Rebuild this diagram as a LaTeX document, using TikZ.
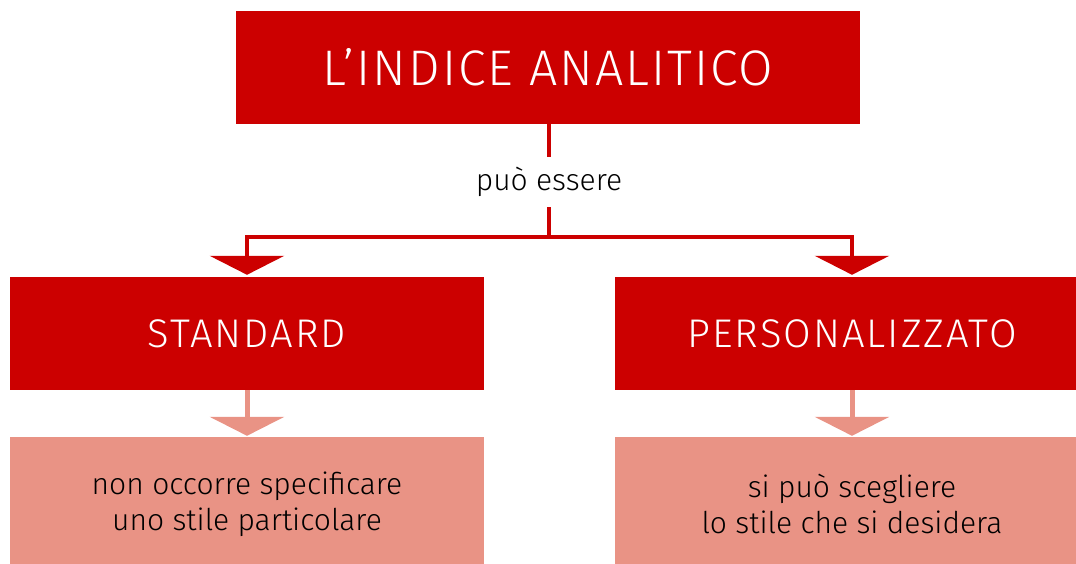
\documentclass[tikz,border=0pt]{standalone}
\usepackage{fontspec}
\setmainfont{Fira Sans Light}
\newfontfamily\titlefont{Fira Sans Light}[LetterSpace=4]
\newfontfamily\capsfont{Fira Sans Light}[LetterSpace=5]
\usetikzlibrary{arrows.meta,positioning}
\definecolor{darkred}{HTML}{CC0000}
\definecolor{salmon}{HTML}{E99385}
\tikzset{
  darkbox/.style={fill=darkred, text=white, minimum width=474pt, minimum height=113pt, inner sep=0pt, font=\capsfont\fontsize{40}{46}\selectfont},
  lightbox/.style={fill=salmon, text=black, minimum width=474pt, inner sep=0pt, align=center, font=\fontsize{30}{36}\selectfont},
  darkarrow/.style={draw=darkred, line width=4pt, -{Triangle[width=74pt,length=19pt]}, shorten >=2pt},
  lightarrow/.style={draw=salmon, line width=5pt, -{Triangle[width=74pt,length=19pt]}, shorten >=1pt},
  darkline/.style={draw=darkred, line width=4pt},
}
\begin{document}
\begin{tikzpicture}[x=1pt,y=-1pt]
\useasboundingbox (0,0) rectangle (1076,563);
\node[darkbox, minimum width=624pt, font=\titlefont\fontsize{50}{58}\selectfont] (top) at (548,67.5) {L’INDICE ANALITICO};
\node[minimum height=50pt, inner sep=0pt, font=\fontsize{30}{36}\selectfont] (pe) at (549,182) {può essere};
\node[darkbox] (std) at (247,333.5) {STANDARD};
\node[darkbox] (pers) at (852,333.5) {PERSONALIZZATO};
\node[lightbox, minimum height=134pt] (stdd) at (247,504) {non occorre specificare\\uno stile particolare};
\node[lightbox, minimum height=134pt] (persd) at (852,504) {si può scegliere\\lo stile che si desidera};
\coordinate (fork) at (549,237);
\draw[darkline] (top.south -| pe.north) -- (pe.north);
\draw[darkline] (pe.south) -- (fork);
\draw[darkarrow] ([xshift=2pt]fork) -| (std.north);
\draw[darkarrow] ([xshift=-2pt]fork) -| (pers.north);
\draw[lightarrow] (std.south) -- (stdd.north);
\draw[lightarrow] (pers.south) -- (persd.north);
\end{tikzpicture}
\end{document}
